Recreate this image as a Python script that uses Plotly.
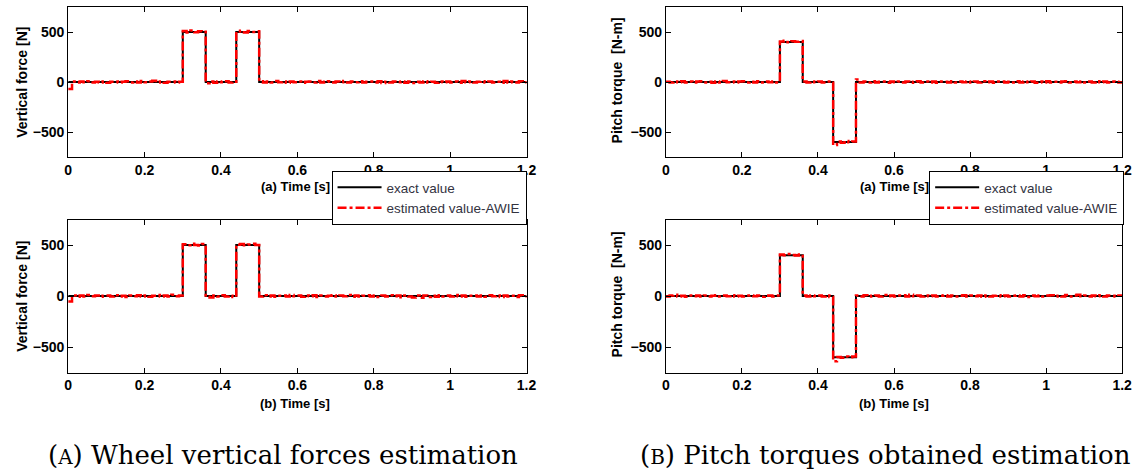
import numpy as np
import plotly.graph_objects as go

# ---------------- data ----------------
t_est = np.round(np.arange(0, 1.2001, 0.01), 2)

exact_t = [0, 0.3, 0.36, 0.44, 0.5, 1.2]
force_exact = [0, 500, 0, 500, 0, 0]
torque_exact = [0, 400, 0, -600, 0, 0]

force_est_a = [
    -70, 4, -5, 6, -3, 8, -6, 3, -4, 5,
    -8, 2, 6, -4, 3, 7, -5, 4, -6, 10,
    -3, 5, 12, -4, 6, -7, 3, 5, -4, 2,
    510, 495, 515, 498, 508, 502, -12, 6, -8, 4,
    -3, 7, -5, 3, 505, 512, 496, 509, 501, 507,
    8, -6, 5, -4, 9, -3, 6, -7, 4, -2,
    5, -8, 3, 6, -5, 11, -4, 2, 7, -6,
    4, -3, 9, -5, 6, -2, 8, -6, 3, 5,
    -4, 7, -9, 3, -5, 6, -3, 4, -7, 5,
    -10, 3, -6, 8, -4, 2, -8, 5, -3, 6,
    -5, 4, -7, 9, -3, 5, -6, 3, 8, -4,
    6, -5, 3, -8, 10, -4, 5, -6, 7, -3,
    4]

force_est_b = [
    -55, 6, -8, 4, -5, 9, -3, 5, -7, 3,
    5, -6, 8, -4, 3, -9, 6, -3, 7, -5,
    4, -7, 3, 9, -4, 6, -5, 12, -3, 5,
    508, 497, 512, 501, 494, 510, -8, -15, 5, -6,
    7, -4, 3, -9, 503, 509, 498, 506, 512, 500,
    -6, 8, -4, 5, -7, 3, 6, -5, 9, -3,
    4, -8, 6, -3, 7, -10, 5, -4, 3, 8,
    -5, 6, -3, 9, -7, 4, -6, 3, 7, -4,
    5, -9, 4, -6, 8, -3, 5, -12, 6, -4,
    -15, 4, -18, 6, -9, 3, -7, 8, -5, 4,
    -6, 9, -4, 5, -8, 3, 6, -5, 4, -7,
    8, -3, 5, -9, 6, -4, 3, -10, 7, -5,
    3]

torque_est_a = [
    3, -5, 6, -3, 8, -4, 5, -6, 4, 7,
    -5, 3, -8, 6, -4, 9, -3, 5, -6, 4,
    7, -5, 3, -4, 8, -6, 5, -3, 6, -4,
    405, 412, 398, 408, 402, 410, 5, -6, 4, -3,
    6, -4, 5, -8, -630, -595, -608, -590, -602, -596,
    25, -5, 6, -4, 8, -6, 3, 5, -7, 4,
    -3, 6, -5, 4, -8, 3, 7, -4, 5, -6,
    4, -7, 5, 3, -6, 8, -4, 5, -3, 6,
    -5, 4, -6, 7, -3, 5, -8, 4, 6, -5,
    3, -6, 8, -4, 5, -3, 6, -7, 4, -5,
    7, -4, 3, -6, 5, 8, -5, 4, -3, 6,
    -6, 5, -4, 7, -3, 4, -6, 5, 3, -4,
    5]

torque_est_b = [
    -4, 6, 12, -5, 3, -7, 5, -3, 6, -4,
    5, -6, 3, 8, -5, 4, -3, 7, -6, 3,
    -5, 4, 6, -3, 5, -7, 3, 6, -4, 5,
    408, 400, 412, 403, 396, 406, 4, -5, 6, -3,
    5, -6, 4, -10, -640, -598, -605, -592, -600, -594,
    6, -4, 8, -5, 3, 6, -4, 9, -3, 5,
    -6, 4, 7, -5, 12, -3, 5, -6, 4, -3,
    6, -4, 3, 7, -5, 4, -6, 3, 8, -4,
    5, -3, 6, -7, 4, -5, 3, 8, -4, 6,
    -5, 3, 6, -4, 7, -9, 4, -3, 5, -6,
    4, 8, -5, 3, -6, 10, -4, 5, 12, -3,
    6, -5, 4, -3, 7, -6, 5, 3, -4, 6,
    4]

x_ticks = [0, 0.2, 0.4, 0.6, 0.8, 1.0, 1.2]
x_ticklabels = ["0", "0.2", "0.4", "0.6", "0.8", "1", "1.2"]
y_ticks = [-500, 0, 500]

# ---------------- figure ----------------
W, H = 1147, 472
def px(x):
    return x / W
def py(y):
    return 1 - y / H

fig = go.Figure()

panels = [
    ("x", "y", force_exact, force_est_a, "legend"),
    ("x2", "y2", torque_exact, torque_est_a, "legend2"),
    ("x3", "y3", force_exact, force_est_b, None),
    ("x4", "y4", torque_exact, torque_est_b, None),
]

for xa, ya, ex, es, lg in panels:
    fig.add_trace(go.Scatter(
        x=exact_t, y=ex, mode="lines", line_shape="hv",
        line=dict(color="black", width=2),
        name="exact value", xaxis=xa, yaxis=ya,
        showlegend=lg is not None, legend=lg or "legend"))
    fig.add_trace(go.Scatter(
        x=t_est, y=es, mode="lines", line_shape="hv",
        line=dict(color="#ff0000", width=2.5, dash="dashdot"),
        name="estimated value-AWIE", xaxis=xa, yaxis=ya,
        showlegend=lg is not None, legend=lg or "legend"))

tickfont = dict(family="Liberation Sans", size=14, color="black", weight="bold")
common_x = dict(range=[0, 1.2], tickvals=x_ticks, ticktext=x_ticklabels,
                showline=True, linecolor="black", linewidth=1, mirror="ticks",
                ticks="inside", ticklen=5, tickcolor="black", showgrid=False,
                zeroline=False, tickfont=tickfont)
common_y = dict(range=[-750, 750], tickvals=y_ticks,
                showline=True, linecolor="black", linewidth=1, mirror="ticks",
                ticks="inside", ticklen=5, tickcolor="black", showgrid=False,
                zeroline=False, tickfont=tickfont)

left_dom = [px(65), px(529)]
right_dom = [px(670), px(1132)]
top_dom = [py(157), py(7)]
bot_dom = [py(372.5), py(219.5)]

leg_common = dict(yanchor="top", xanchor="right",
                  bordercolor="black", borderwidth=1, bgcolor="white",
                  font=dict(family="Liberation Sans", size=13.5, color="#33333f"),
                  tracegroupgap=0, itemwidth=44)

fig.update_layout(
    width=W, height=H,
    margin=dict(l=0, r=0, t=0, b=0),
    paper_bgcolor="white", plot_bgcolor="white",
    xaxis=dict(domain=left_dom, anchor="y", **common_x),
    yaxis=dict(domain=top_dom, anchor="x", **common_y),
    xaxis2=dict(domain=right_dom, anchor="y2", **common_x),
    yaxis2=dict(domain=top_dom, anchor="x2", **common_y),
    xaxis3=dict(domain=left_dom, anchor="y3", **common_x),
    yaxis3=dict(domain=bot_dom, anchor="x3", **common_y),
    xaxis4=dict(domain=right_dom, anchor="y4", **common_x),
    yaxis4=dict(domain=bot_dom, anchor="x4", **common_y),
    legend=dict(x=px(529), y=py(171), **leg_common),
    legend2=dict(x=px(1134), y=py(171), **leg_common),
)

lab_font = dict(family="Liberation Sans", size=13, color="black", weight="bold")
ylab_font = dict(family="Liberation Sans", size=14, color="black", weight="bold")
annots = [
    dict(text="(a) Time [s]", x=px(295), y=py(187), font=lab_font),
    dict(text="(a) Time [s]", x=px(901), y=py(187), font=lab_font),
    dict(text="(b) Time [s]", x=px(295), y=py(403), font=lab_font),
    dict(text="(b) Time [s]", x=px(901), y=py(403), font=lab_font),
    dict(text="Vertical force [N]", x=px(18), y=py(82), textangle=-90, font=ylab_font),
    dict(text="Pitch torque  [N-m]", x=px(621), y=py(80), textangle=-90, font=ylab_font),
    dict(text="Vertical force [N]", x=px(18), y=py(296), textangle=-90, font=ylab_font),
    dict(text="Pitch torque  [N-m]", x=px(621), y=py(294), textangle=-90, font=ylab_font),
]
for a in annots:
    fig.add_annotation(xref="paper", yref="paper", showarrow=False,
                       xanchor="center", yanchor="middle", **a)

cap_font = dict(family="DejaVu Serif", size=26, color="black")
fig.add_annotation(xref="paper", yref="paper", showarrow=False,
                   x=px(282), y=py(455), xanchor="center", yanchor="middle",
                   text="(<span style='font-size:20px'>A</span>) Wheel vertical forces estimation",
                   font=cap_font)
fig.add_annotation(xref="paper", yref="paper", showarrow=False,
                   x=px(892), y=py(455), xanchor="center", yanchor="middle",
                   text="(<span style='font-size:20px'>B</span>) Pitch torques obtained estimation",
                   font=cap_font)

fig.write_html("out.html")
